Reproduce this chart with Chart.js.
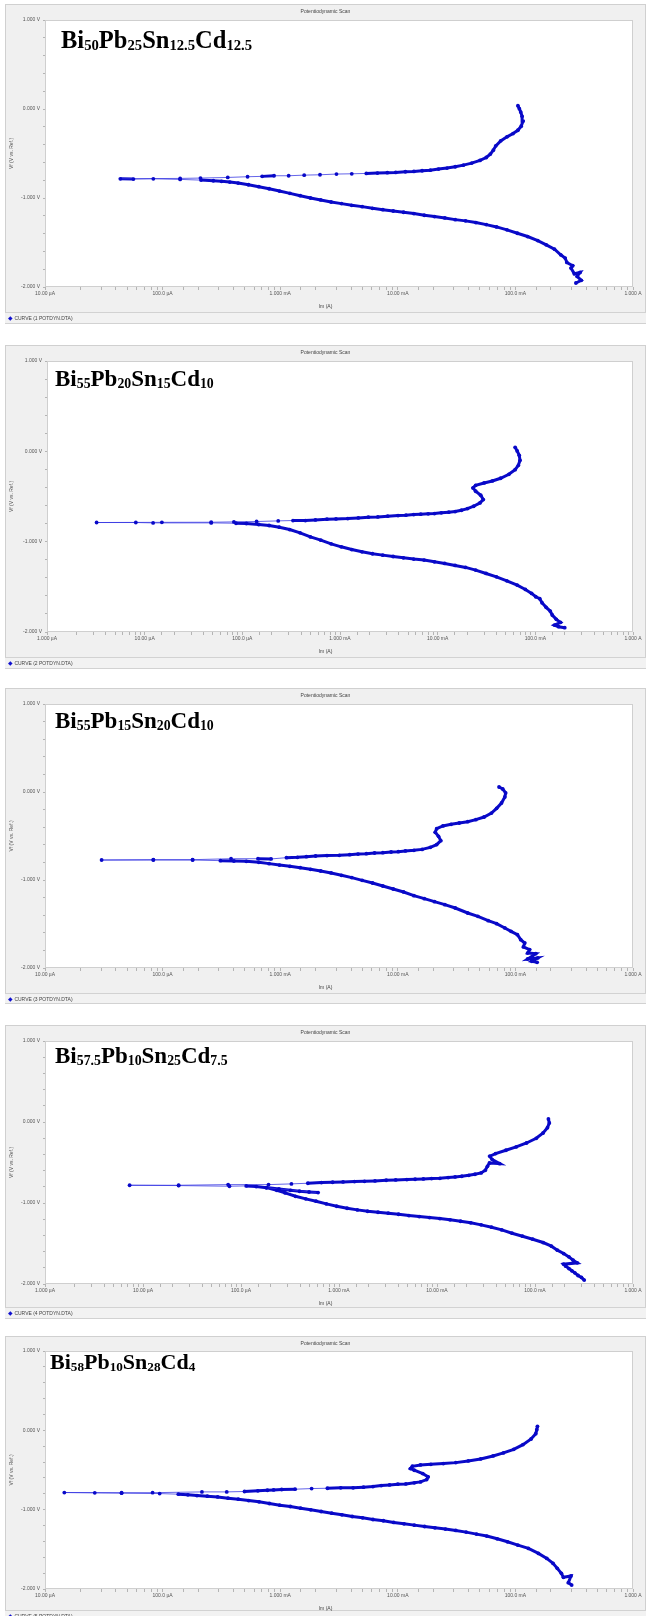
<!DOCTYPE html>
<html>
<head>
<meta charset="utf-8">
<script src="https://cdn.jsdelivr.net/npm/chart.js@4/dist/chart.umd.min.js"></script>
<style>
  body { margin:0; width:646px; height:1616px; background:#fff; position:relative; overflow:hidden; font-family:"Liberation Sans", Arial, sans-serif; }
  .frame { position:absolute; left:5px; width:641px; background:#f0f0f0; border:1px solid #d0d0d0; box-sizing:border-box; }
  canvas { position:absolute; left:5px; }
  .small { position:absolute; font-size:5px; line-height:6px; color:#444; white-space:nowrap; }
  .band { position:absolute; left:5px; width:641px; border-top:1px solid #d2d2d2; border-bottom:1px solid #d2d2d2; box-sizing:border-box; background:#f2f2f2; }
  .alloy { position:absolute; font-family:"Liberation Serif", "Times New Roman", serif; font-weight:bold; color:#000; white-space:nowrap; line-height:1; }
  .alloy sub { font-size:0.6em; vertical-align:-0.14em; line-height:0; }
</style>
</head>
<body>
<script>
// current (A) and potential (V) in scan order, cathodic end first
const current1 = [0.327,0.363,0.335,0.355,0.317,0.297,0.307,0.274,0.265,0.243,0.215,0.183,0.155,0.127,0.104,0.0848,0.0692,0.0565,0.0461,0.0377,
  0.0308,0.0251,0.0205,0.0168,0.0137,0.0112,0.00914,0.00746,0.00610,0.00498,0.00406,0.00332,0.00271,0.00221,0.00181,0.00148,0.00121,0.000986,0.000805,0.000658,
  0.000537,0.000439,0.000373,0.000317,0.000270,0.000212,0.000141,0.0000834,0.0000565,0.0000437,
  0.000141,0.000210,0.000358,0.000528,0.000702,0.000887,0.00118,0.00160,0.00218,0.00301,0.00406,0.00540,0.00671,0.00815,0.00959,0.0116,0.0137,0.0161,0.0189,0.0222,
  0.0262,0.0308,0.0361,0.0425,0.0500,0.0565,0.0612,0.0649,0.0681,0.0750,0.0848,0.0955,0.105,0.112,0.116,0.114,0.111,0.108,0.105];
const potential1 = [-1.955,-1.925,-1.881,-1.836,-1.851,-1.787,-1.761,-1.724,-1.675,-1.638,-1.575,-1.526,-1.478,-1.433,-1.396,-1.358,-1.325,-1.299,-1.276,-1.257,
  -1.243,-1.224,-1.209,-1.194,-1.175,-1.160,-1.146,-1.131,-1.116,-1.097,-1.082,-1.063,-1.045,-1.022,-1.000,-0.974,-0.948,-0.922,-0.896,-0.873,
  -0.851,-0.832,-0.821,-0.813,-0.806,-0.799,-0.791,-0.784,-0.787,-0.784,
  -0.780,-0.776,-0.769,-0.761,-0.757,-0.750,-0.750,-0.743,-0.739,-0.731,-0.728,-0.724,-0.720,-0.716,-0.713,-0.705,-0.701,-0.694,-0.687,-0.675,
  -0.664,-0.649,-0.631,-0.608,-0.578,-0.545,-0.507,-0.463,-0.414,-0.358,-0.313,-0.276,-0.239,-0.194,-0.138,-0.082,-0.034,0.004,0.037];

const current2 = [0.200,0.173,0.157,0.181,0.164,0.149,0.142,0.129,0.117,0.111,0.101,0.0916,0.0791,0.0652,0.0511,0.0400,0.0313,0.0245,0.0193,0.0151,
  0.0118,0.00927,0.00726,0.00569,0.00446,0.00350,0.00274,0.00215,0.00168,0.00132,0.00103,0.000811,0.000636,0.000498,0.000390,0.000305,0.000239,0.000188,0.000147,0.000110,
  0.0000861,0.0000480,0.0000122,0.00000812,0.00000322,
  0.0000150,0.0000480,0.0000820,0.000140,0.000233,0.000330,0.000442,0.000560,0.000735,0.000910,0.00120,0.00154,0.00195,0.00244,0.00308,0.00393,0.00473,0.00569,0.00671,0.00800,
  0.00927,0.0109,0.0130,0.0151,0.0175,0.0202,0.0234,0.0271,0.0293,0.0276,0.0245,0.0230,0.0245,0.0299,0.0363,0.0441,0.0536,0.0621,0.0670,0.0697,
  0.0684,0.0652,0.0621];
const potential2 = [-1.952,-1.941,-1.923,-1.893,-1.860,-1.812,-1.768,-1.727,-1.676,-1.632,-1.610,-1.573,-1.529,-1.481,-1.433,-1.389,-1.352,-1.315,-1.285,-1.263,
  -1.241,-1.223,-1.204,-1.193,-1.179,-1.164,-1.149,-1.134,-1.112,-1.087,-1.057,-1.024,-0.983,-0.947,-0.902,-0.866,-0.840,-0.821,-0.810,-0.799,
  -0.796,-0.792,-0.792,-0.788,-0.788,
  -0.786,-0.785,-0.781,-0.777,-0.770,-0.766,-0.766,-0.759,-0.751,-0.748,-0.744,-0.737,-0.729,-0.726,-0.718,-0.711,-0.707,-0.700,-0.696,-0.692,
  -0.689,-0.681,-0.674,-0.667,-0.652,-0.634,-0.608,-0.571,-0.534,-0.486,-0.442,-0.405,-0.376,-0.350,-0.328,-0.298,-0.254,-0.203,-0.155,-0.099,
  -0.044,0.004,0.044];

const current3 = [0.153,0.138,0.155,0.127,0.149,0.127,0.132,0.117,0.120,0.111,0.104,0.0918,0.0813,0.0692,0.0587,0.0480,0.0393,0.0308,0.0251,0.0205,
  0.0168,0.0137,0.0112,0.00914,0.00746,0.00610,0.00498,0.00406,0.00332,0.00271,0.00221,0.00181,0.00148,0.00121,0.000986,0.000805,0.000658,0.000515,0.000404,0.000310,
  0.000180,0.0000834,0.0000303,
  0.0000834,0.000180,0.000382,0.000647,0.000837,0.00113,0.00140,0.00167,0.00200,0.00250,0.00318,0.00390,0.00459,0.00540,0.00634,0.00746,0.00877,0.0101,0.0116,0.0137,
  0.0161,0.0189,0.0214,0.0232,0.0222,0.0208,0.0214,0.0242,0.0284,0.0333,0.0393,0.0461,0.0542,0.0626,0.0692,0.0762,0.0813,0.0826,0.0780,0.0726];
const potential3 = [-1.936,-1.924,-1.886,-1.898,-1.837,-1.830,-1.792,-1.761,-1.716,-1.678,-1.621,-1.583,-1.545,-1.496,-1.462,-1.413,-1.375,-1.318,-1.280,-1.246,
  -1.212,-1.178,-1.136,-1.102,-1.068,-1.034,-1.004,-0.973,-0.947,-0.920,-0.898,-0.879,-0.860,-0.845,-0.830,-0.814,-0.799,-0.788,-0.784,-0.780,
  -0.773,-0.773,-0.773,
  -0.769,-0.769,-0.758,-0.758,-0.761,-0.746,-0.742,-0.735,-0.727,-0.723,-0.720,-0.712,-0.705,-0.701,-0.693,-0.689,-0.682,-0.678,-0.670,-0.663,
  -0.652,-0.629,-0.598,-0.553,-0.504,-0.458,-0.417,-0.386,-0.367,-0.352,-0.337,-0.314,-0.284,-0.239,-0.186,-0.125,-0.057,-0.011,0.034,0.057];

const current4 = [0.318,0.298,0.275,0.255,0.238,0.222,0.206,0.196,0.270,0.245,0.222,0.196,0.169,0.147,0.121,0.0948,0.0745,0.0583,0.0458,0.0360,
  0.0282,0.0221,0.0174,0.0136,0.0107,0.00840,0.00659,0.00517,0.00405,0.00318,0.00250,0.00196,0.00154,0.00121,0.000949,0.000744,0.000583,0.000458,0.000360,0.000282,
  0.000232,0.000182,0.000244,0.000320,0.000396,0.000495,0.000612,0.000182,0.000143,0.000113,0.0000762,0.0000231,0.0000073,
  0.0000231,0.0000739,0.000191,0.000327,0.000481,0.000662,0.000861,0.00110,0.00144,0.00182,0.00233,0.00303,0.00379,0.00493,0.00598,0.00726,0.00881,0.0107,0.0130,0.0153,
  0.0179,0.0211,0.0244,0.0282,0.0311,0.0327,0.0343,0.0436,0.0366,0.0346,0.0396,0.0505,0.0643,0.0820,0.103,0.121,0.134,0.140,0.137];
const potential4 = [-1.952,-1.919,-1.895,-1.862,-1.837,-1.809,-1.780,-1.755,-1.739,-1.706,-1.665,-1.624,-1.582,-1.533,-1.488,-1.447,-1.410,-1.373,-1.332,-1.299,
  -1.270,-1.245,-1.225,-1.208,-1.192,-1.180,-1.167,-1.155,-1.139,-1.126,-1.114,-1.102,-1.085,-1.065,-1.040,-1.011,-0.978,-0.949,-0.917,-0.875,
  -0.843,-0.810,-0.826,-0.843,-0.855,-0.864,-0.871,-0.812,-0.797,-0.789,-0.793,-0.785,-0.781,
  -0.781,-0.773,-0.773,-0.764,-0.756,-0.748,-0.744,-0.740,-0.736,-0.732,-0.727,-0.719,-0.715,-0.711,-0.707,-0.703,-0.699,-0.695,-0.686,-0.678,
  -0.670,-0.658,-0.645,-0.629,-0.596,-0.547,-0.506,-0.514,-0.464,-0.423,-0.390,-0.349,-0.308,-0.259,-0.201,-0.136,-0.070,-0.012,0.037];

const current5 = [0.301,0.282,0.297,0.256,0.246,0.227,0.209,0.185,0.157,0.129,0.105,0.0857,0.0700,0.0571,0.0467,0.0381,0.0311,0.0254,0.0207,0.0169,
  0.0138,0.0113,0.00923,0.00754,0.00615,0.00502,0.00410,0.00335,0.00274,0.00223,0.00182,0.00149,0.00122,0.000991,0.000809,0.000661,0.000539,0.000440,0.000360,0.000294,
  0.000240,0.000196,0.000164,0.000136,0.0000944,0.0000448,0.0000265,0.0000146,
  0.0000448,0.0000822,0.000216,0.000351,0.000497,0.000646,0.000778,0.000879,0.00103,0.00134,0.00185,0.00252,0.00327,0.00417,0.00511,0.00615,0.00723,0.00851,0.0100,0.0117,
  0.0138,0.0156,0.0176,0.0181,0.0163,0.0138,0.0128,0.0133,0.0156,0.0191,0.0244,0.0311,0.0397,0.0506,0.0646,0.0791,0.0968,0.116,0.136,0.149,
  0.152,0.154];
const potential5 = [-1.950,-1.920,-1.836,-1.853,-1.803,-1.740,-1.677,-1.614,-1.551,-1.488,-1.447,-1.405,-1.367,-1.333,-1.308,-1.283,-1.262,-1.245,-1.229,-1.212,
  -1.195,-1.178,-1.161,-1.140,-1.124,-1.103,-1.086,-1.065,-1.044,-1.023,-1.002,-0.981,-0.960,-0.943,-0.922,-0.901,-0.885,-0.868,-0.855,-0.839,
  -0.830,-0.822,-0.813,-0.805,-0.797,-0.792,-0.788,-0.784,
  -0.786,-0.786,-0.776,-0.776,-0.771,-0.763,-0.755,-0.751,-0.746,-0.742,-0.734,-0.730,-0.725,-0.725,-0.717,-0.709,-0.696,-0.688,-0.679,-0.675,
  -0.662,-0.650,-0.621,-0.587,-0.545,-0.503,-0.482,-0.453,-0.436,-0.428,-0.419,-0.407,-0.386,-0.361,-0.323,-0.285,-0.239,-0.180,-0.109,-0.042,
  0.008,0.050];

const currents = [current1, current2, current3, current4, current5];
const potentials = [potential1, potential2, potential3, potential4, potential5];
const xMins = [1e-5, 1e-6, 1e-5, 1e-6, 1e-5];
const xTickLabels = ['1.000 µA', '10.00 µA', '100.0 µA', '1.000 mA', '10.00 mA', '100.0 mA', '1.000 A'];
const yTickValues = [1, 0, -1, -2];
const yTickLabels = ['1.000 V', '0.000 V', '-1.000 V', '-2.000 V'];
const curveNames = ['CURVE (1 POTDYN.DTA)', 'CURVE (2 POTDYN.DTA)', 'CURVE (3 POTDYN.DTA)', 'CURVE (4 POTDYN.DTA)', 'CURVE (5 POTDYN.DTA)'];
const alloys = [
  ['Bi', '50', 'Pb', '25', 'Sn', '12.5', 'Cd', '12.5'],
  ['Bi', '55', 'Pb', '20', 'Sn', '15', 'Cd', '10'],
  ['Bi', '55', 'Pb', '15', 'Sn', '20', 'Cd', '10'],
  ['Bi', '57.5', 'Pb', '10', 'Sn', '25', 'Cd', '7.5'],
  ['Bi', '58', 'Pb', '10', 'Sn', '28', 'Cd', '4']
];

// page layout: frame top, plot top/bottom/left, legend band, label position
const panels = [
  { F: 4,    top: 20,   B: 287,  left: 45, band: 312,  end: 324,  lx: 61, base: 49,   size: 24.5 },
  { F: 345,  top: 361,  B: 632,  left: 47, band: 657,  end: 669,  lx: 55, base: 386,  size: 23 },
  { F: 688,  top: 704,  B: 968,  left: 45, band: 993,  end: 1004, lx: 55, base: 728,  size: 23 },
  { F: 1025, top: 1041, B: 1284, left: 45, band: 1307, end: 1319, lx: 55, base: 1063, size: 23 },
  { F: 1336, top: 1351, B: 1589, left: 45, band: 1610, end: 1630, lx: 50, base: 1369, size: 22 }
];
const PLOT_RIGHT = 633;

const plotBg = {
  id: 'plotBg',
  beforeDraw(chart) {
    const a = chart.chartArea, c = chart.ctx;
    c.save();
    c.fillStyle = '#fff';
    c.fillRect(a.left, a.top, a.right - a.left, a.bottom - a.top);
    c.strokeStyle = '#cfcfcf';
    c.lineWidth = 1;
    c.strokeRect(a.left + 0.5, a.top + 0.5, a.right - a.left - 1, a.bottom - a.top - 1);
    c.restore();
  }
};

const dense = ctx => Math.hypot(ctx.p1.x - ctx.p0.x, ctx.p1.y - ctx.p0.y) < 14;

function addDiv(cls, css, html) {
  const d = document.createElement('div');
  d.className = cls;
  Object.assign(d.style, css);
  d.innerHTML = html;
  document.body.appendChild(d);
  return d;
}

panels.forEach((p, n) => {
  addDiv('frame', { top: p.F + 'px', height: (p.end - p.F) + 'px' }, '');
  addDiv('band', { top: p.band + 'px', height: (p.end - p.band) + 'px' }, '');

  const cv = document.createElement('canvas');
  const W = 641, H = p.B + 20 - p.F;
  cv.width = W; cv.height = H;
  cv.style.top = p.F + 'px';
  document.body.appendChild(cv);

  addDiv('small', { top: (p.F + 4) + 'px', left: '5px', width: '641px', textAlign: 'center' }, 'Potentiodynamic Scan');
  addDiv('small', { top: (p.B + 16) + 'px', left: '5px', width: '641px', textAlign: 'center' }, 'Im (A)');
  addDiv('small', { top: (p.band + 3) + 'px', left: '8px' },
    '<span style="color:#1010d0;font-size:6px">&#9670;</span>&nbsp;' + curveNames[n]);

  const parts = alloys[n];
  let html = '';
  for (let i = 0; i < parts.length; i += 2) html += parts[i] + '<sub>' + parts[i + 1] + '</sub>';
  addDiv('alloy', { left: p.lx + 'px', top: (p.base - 0.8375 * p.size) + 'px', fontSize: p.size + 'px' }, html);

  const pts = currents[n].map((c, i) => ({ x: c, y: potentials[n][i] }));
  new Chart(cv, {
    type: 'scatter',
    data: {
      datasets: [{
        label: curveNames[n],
        data: pts,
        showLine: true,
        borderColor: 'rgba(50,50,225,0.75)',
        borderWidth: 1,
        pointRadius: 1.9,
        pointBackgroundColor: '#0808c8',
        pointBorderWidth: 0,
        segment: {
          borderWidth: ctx => dense(ctx) ? 3 : 1,
          borderColor: ctx => dense(ctx) ? '#0a0ac8' : 'rgba(50,50,225,0.75)'
        }
      }]
    },
    options: {
      responsive: false,
      animation: false,
      devicePixelRatio: 1,
      layout: { padding: { top: p.top - p.F, right: W - (PLOT_RIGHT - 5), left: 0, bottom: 0 } },
      plugins: { legend: { display: false }, tooltip: { enabled: false } },
      scales: {
        x: {
          type: 'logarithmic',
          min: xMins[n],
          max: 1,
          afterFit: s => { s.height = 20; },
          grid: { drawOnChartArea: false, tickLength: 3, color: '#b4b4b4' },
          border: { display: false },
          ticks: {
            autoSkip: false, maxRotation: 0, padding: 1, color: '#555',
            font: { size: 5, family: 'Liberation Sans' },
            callback: v => {
              const e = Math.log10(v), r = Math.round(e);
              return Math.abs(e - r) < 1e-6 ? xTickLabels[r + 6] : '';
            }
          }
        },
        y: {
          min: -2,
          max: 1,
          afterFit: s => { s.width = p.left - 5; },
          grid: { drawOnChartArea: false, tickLength: 2, color: '#b4b4b4' },
          border: { display: false },
          ticks: {
            stepSize: 0.2, autoSkip: false, padding: 3, color: '#555',
            font: { size: 5, family: 'Liberation Sans' },
            callback: v => {
              const r = Math.round(v);
              return Math.abs(v - r) < 1e-6 ? yTickLabels[yTickValues.indexOf(r)] : '';
            }
          },
          title: { display: true, text: 'Vf (V vs. Ref.)', color: '#555', font: { size: 5, family: 'Liberation Sans' }, padding: { top: 4, bottom: 0 } }
        }
      }
    },
    plugins: [plotBg]
  });
});
</script>
</body>
</html>
